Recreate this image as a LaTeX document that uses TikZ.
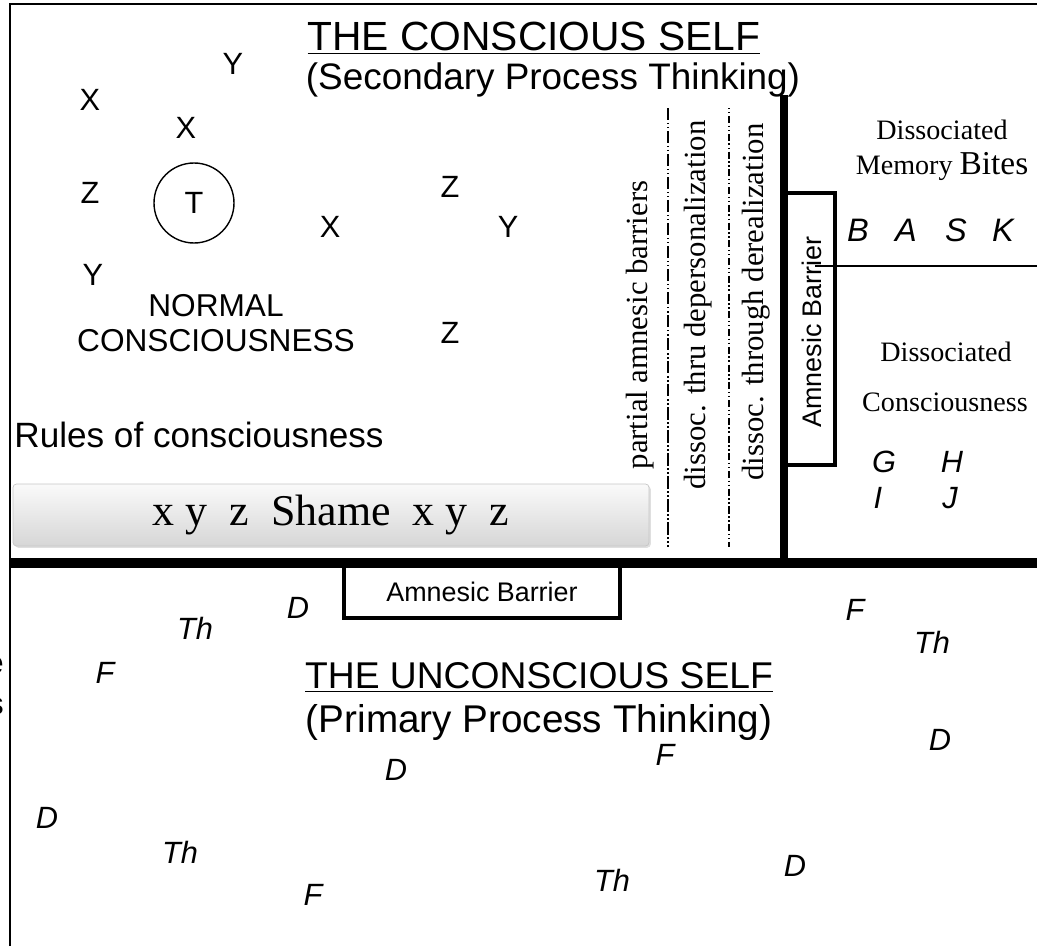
\documentclass[tikz,border=0pt]{standalone}
\usepackage{fontspec}
\setmainfont{Liberation Serif}
\setsansfont{Liberation Sans}
\usetikzlibrary{shadows}
\begin{document}
\begin{tikzpicture}[x=0.02cm,y=-0.02cm,
  every node/.style={inner sep=0pt},
  title/.style={font=\sffamily\fontsize{23.2}{27}\selectfont},
  subtitle/.style={font=\sffamily\fontsize{21}{25}\selectfont},
  letter/.style={font=\sffamily\fontsize{17.5}{20}\selectfont},
  itl/.style={font=\sffamily\itshape\fontsize{17.5}{20}\selectfont},
  bigitl/.style={font=\sffamily\itshape\fontsize{18.5}{21}\selectfont},
  label/.style={font=\sffamily\fontsize{18}{21}\selectfont, align=center},
  serifv/.style={font=\fontsize{17.5}{20}\selectfont, rotate=90},
  serif/.style={font=\fontsize{16}{19}\selectfont, align=center},
  barrier/.style={font=\sffamily\fontsize{15.3}{18}\selectfont},
  border/.style={line width=1.7pt},
  thickline/.style={line width=6.2pt},
  boxline/.style={line width=2.3pt}
]
\useasboundingbox (0,0) rectangle (1037,946);
% left edge fragments
\begin{scope}
\clip (0,0) rectangle (8,946);
\node[letter, anchor=east] (frag1) at (4,665) {e};
\node[letter, anchor=east] (frag2) at (4,706) {s};
\end{scope}
% frame
\draw[border] (10,946) -- (10,4) -- (1037,4);
% titles
\node[title] (t1) at (534,38) {\underline{THE CONSCIOUS SELF}};
\node[subtitle] (t2) at (553,80) {(Secondary Process Thinking)};
\node[title, font=\sffamily\fontsize{21.2}{25}\selectfont] (t3) at (539,677) {\underline{THE UNCONSCIOUS SELF}};
\node[subtitle, font=\sffamily\fontsize{22}{26}\selectfont] (t4) at (539,722) {(Primary Process Thinking)};
% top letters
\node[letter] (x1) at (90,100) {X};
\node[letter] (y1) at (233,64) {Y};
\node[letter] (x2) at (186,128) {X};
\node[letter] (z1) at (90,193) {Z};
\node[letter, draw, circle, line width=0.8pt, minimum size=80*0.02cm] (tc) at (194,203) {T};
\node[letter] (x3) at (330,227) {X};
\node[letter] (z2) at (450,187) {Z};
\node[letter] (y2) at (508,227) {Y};
\node[letter] (y3) at (93,275) {Y};
\node[letter] (z3) at (450,333) {Z};
\node[label] (nc) at (216,323) {NORMAL\\[-1pt]CONSCIOUSNESS};
\node[label, font=\sffamily\fontsize{20}{23}\selectfont] (rules) at (199,435) {Rules of consciousness};
% shame box
\node[draw=gray!45, rounded corners=2pt, top color=gray!4, bottom color=gray!32,
      drop shadow={opacity=0.25, shadow xshift=1pt, shadow yshift=-1pt},
      minimum width=636*0.02cm, minimum height=62*0.02cm,
      font=\fontsize{25}{29}\selectfont] (shame) at (331,515)
      {x y\ \ z\ \ Shame\ \ x\ y\ \ z};
% dashed barriers
\coordinate (d1t) at (668,108);
\coordinate (d1b) at (668,547);
\coordinate (d2t) at (729,108);
\coordinate (d2b) at (729,547);
\draw[line width=0.7pt, dash pattern=on 7pt off 1.5pt on 0.8pt off 1.5pt on 0.8pt off 1.5pt] (d1t) -- (d1b);
\draw[line width=0.7pt, dash pattern=on 0.8pt off 1.5pt on 0.8pt off 1.5pt on 4pt off 1.5pt] (d2t) -- (d2b);
\node[serifv] (pab) at (640,325) {partial amnesic barriers};
\node[serifv] (dep) at (698,305) {dissoc. thru depersonalization};
\node[serifv] (der) at (756,302) {dissoc. through derealization};
% main barrier lines
\draw[line width=4pt] (784,95) -- (784,560);
\draw[thickline] (10,563) -- (1037,563);
% vertical amnesic barrier box
\draw[boxline] (784,193) -- (835,193) -- (835,465) -- (784,465);
\draw[line width=0.6pt] (815,266) -- (1037,266);
\node[barrier, rotate=90] (ab1) at (812,332) {Amnesic Barrier};
% bottom amnesic barrier box
\draw[boxline] (344,565) -- (344,618) -- (620,618) -- (620,565);
\node[barrier] (ab2) at (482,592) {Amnesic Barrier};
% right region
\node[serif] (dmb) at (942,150) {Dissociated\\[1pt]Memory {\fontsize{19}{19}\selectfont Bites}};
\node[bigitl] (b) at (858,230) {B};
\node[bigitl] (a) at (906,230) {A};
\node[bigitl] (s) at (956,230) {S};
\node[bigitl] (k) at (1003,230) {K};
\node[serif] (dc1) at (946,352) {Dissociated};
\node[serif] (dc2) at (945,402) {Consciousness};
\node[itl] (g) at (884,462) {G};
\node[itl] (h) at (952,462) {H};
\node[itl] (i) at (878,498) {I};
\node[itl] (j) at (950,498) {J};
% bottom letters
\node[itl] (bd1) at (298,608) {D};
\node[itl] (bth1) at (195,628) {Th};
\node[itl] (bf1) at (855,610) {F};
\node[itl] (bth2) at (932,642) {Th};
\node[itl] (bf2) at (105,673) {F};
\node[itl] (bd2) at (940,740) {D};
\node[itl] (bf3) at (665,755) {F};
\node[itl] (bd3) at (396,770) {D};
\node[itl] (bd4) at (47,818) {D};
\node[itl] (bth3) at (180,852) {Th};
\node[itl] (bd5) at (795,866) {D};
\node[itl] (bth4) at (612,880) {Th};
\node[itl] (bf4) at (313,895) {F};
\end{tikzpicture}
\end{document}
